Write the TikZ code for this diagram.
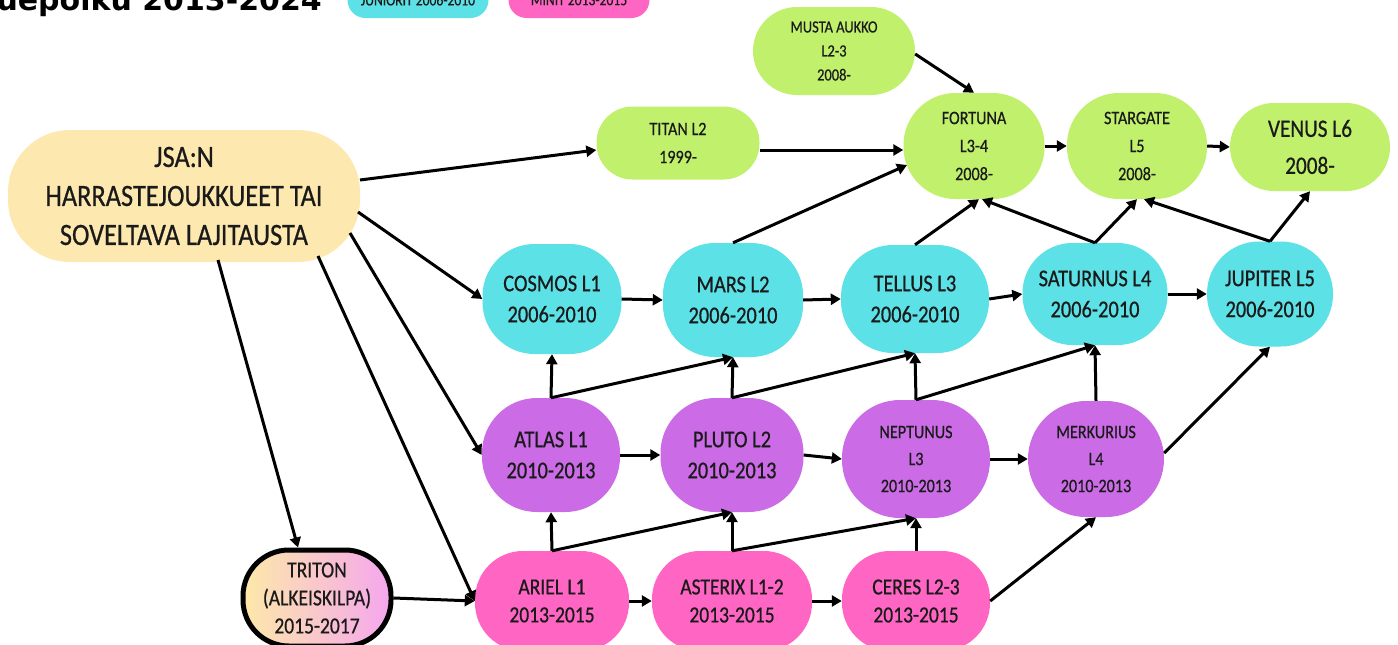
\documentclass[tikz,border=0pt]{standalone}
\usepackage{fontspec}
\setmainfont{Carlito}[FakeStretch=0.85, FakeBold=0.6]
\newfontfamily\titlefont{DejaVu Sans}
\usetikzlibrary{arrows.meta}
\definecolor{ink}{HTML}{1A1A1A}
\definecolor{cyanc}{HTML}{5CE1E6}
\definecolor{purp}{HTML}{CB6CE6}
\definecolor{pinkc}{HTML}{FF66C4}
\definecolor{limec}{HTML}{C1F16C}
\definecolor{creamc}{HTML}{FDE9B0}
\definecolor{trL}{HTML}{FDE9A9}
\definecolor{trR}{HTML}{F5A6EE}
\begin{document}
\begin{tikzpicture}[x=1pt,y=-1pt,
  base/.style={rectangle, inner sep=0pt, align=center, text=ink},
  cy/.style={base, fill=cyanc, rounded corners=52pt, font=\fontsize{24}{31}\selectfont},
  pu/.style={base, fill=purp, rounded corners=55pt, font=\fontsize{24}{31}\selectfont},
  pusm/.style={pu, font=\fontsize{19}{27}\selectfont},
  pk/.style={base, fill=pinkc, rounded corners=48pt, font=\fontsize{23}{28}\selectfont},
  gr/.style={base, fill=limec, rounded corners=50pt, font=\fontsize{19}{28}\selectfont},
  arr/.style={-{Triangle[length=10pt,width=11pt]}, line width=3pt, draw=black},
]
\useasboundingbox (0,0) rectangle (1398,645);
\fill[white] (0,0) rectangle (1398,645);

% title and legend (cut off at the top, as in the reference)
\node[anchor=base east, text=black, inner sep=0pt,
      font=\titlefont\bfseries\fontsize{30}{30}\selectfont] (title) at (322,10) {Joukkuepolku 2013-2024};
\node[base, fill=cyanc, rounded corners=18pt, minimum width=141pt, minimum height=36pt,
      font=\fontsize{16}{16}\selectfont] (legjun) at (418,0) {JUNIORIT 2006-2010};
\node[base, fill=pinkc, rounded corners=18pt, minimum width=141pt, minimum height=36pt,
      font=\fontsize{16}{16}\selectfont] (legmin) at (579,0) {MINIT 2013-2015};

% nodes
\node[base, fill=creamc, rounded corners=62pt, minimum width=352pt, minimum height=132pt,
      font=\fontsize{31}{39}\selectfont] (jsa) at (184,196) {JSA:N\\HARRASTEJOUKKUEET TAI\\SOVELTAVA LAJITAUSTA};

\node[gr, rounded corners=36pt, minimum width=163pt, minimum height=73pt] (titan) at (678,143) {TITAN L2\\1999-};
\node[gr, rounded corners=44pt, minimum width=162pt, minimum height=88pt,
      font=\fontsize{17}{24}\selectfont] (musta) at (834,51) {MUSTA AUKKO\\L2-3\\2008-};
\node[gr, rounded corners=52pt, minimum width=141pt, minimum height=106pt] (fortuna) at (974,146) {FORTUNA\\L3-4\\2008-};
\node[gr, rounded corners=52pt, minimum width=140pt, minimum height=106pt] (stargate) at (1137,146) {STARGATE\\L5\\2008-};
\node[gr, rounded corners=44pt, minimum width=160pt, minimum height=88pt,
      font=\fontsize{25}{37}\selectfont] (venus) at (1310,147) {VENUS L6\\2008-};

\node[cy, minimum width=139pt, minimum height=110pt] (cosmos) at (552,299) {COSMOS L1\\2006-2010};
\node[cy, minimum width=140pt, minimum height=114pt] (mars) at (733,300) {MARS L2\\2006-2010};
\node[cy, minimum width=148pt, minimum height=108pt] (tellus) at (915,299) {TELLUS L3\\2006-2010};
\node[cy, rounded corners=50pt, minimum width=145pt, minimum height=102pt] (saturnus) at (1095,294) {SATURNUS L4\\2006-2010};
\node[cy, minimum width=126pt, minimum height=105pt] (jupiter) at (1270,294) {JUPITER L5\\2006-2010};

\node[pu, minimum width=138pt, minimum height=114pt] (atlas) at (551,455) {ATLAS L1\\2010-2013};
\node[pu, minimum width=143pt, minimum height=114pt] (pluto) at (732,455) {PLUTO L2\\2010-2013};
\node[pusm, rounded corners=58pt, minimum width=148pt, minimum height=118pt] (neptunus) at (916,459) {NEPTUNUS\\L3\\2010-2013};
\node[pusm, rounded corners=58pt, minimum width=136pt, minimum height=116pt] (merkurius) at (1096,459) {MERKURIUS\\L4\\2010-2013};

\node[pk, minimum width=154pt, minimum height=100pt] (ariel) at (552,601) {ARIEL L1\\2013-2015};
\node[pk, minimum width=160pt, minimum height=100pt] (asterix) at (732,601) {ASTERIX L1-2\\2013-2015};
\node[pk, minimum width=148pt, minimum height=100pt] (ceres) at (916,601) {CERES L2-3\\2013-2015};

\node[base, left color=trL, right color=trR, draw=black, line width=5pt, rounded corners=46pt,
      minimum width=148pt, minimum height=96pt, font=\fontsize{23}{28}\selectfont] (triton) at (317,598) {TRITON\\(ALKEISKILPA)\\2015-2017};

% connectors from JSA
\draw[arr] ([shift={(176,-16)}]jsa.center) -- ([shift={(0,7)}]titan.west);
\draw[arr] ([shift={(174,16)}]jsa.center) -- (cosmos.west);
\draw[arr] ([shift={(166,37)}]jsa.center) -- (atlas.west);
\draw[arr] ([shift={(134,60)}]jsa.center) -- (ariel.west);
\draw[arr] ([shift={(34,64)}]jsa.center) -- ([shift={(-19,0)}]triton.north);
\draw[arr] (triton.east) -- (ariel.west);

% green row
\draw[arr] ([shift={(0,7)}]titan.east) -- ([shift={(0,4)}]fortuna.west);
\draw[arr] ([shift={(0,3)}]musta.east) -- (fortuna.north);
\draw[arr] (fortuna.east) -- (stargate.west);
\draw[arr] (stargate.east) -- (venus.west);

% cyan to green
\draw[arr] (mars.north) -- ([shift={(-67,19)}]fortuna.center);
\draw[arr] (tellus.north) -- ([shift={(5,0)}]fortuna.south);
\draw[arr] (saturnus.north) -- ([shift={(8,0)}]fortuna.south);
\draw[arr] (saturnus.north) -- (stargate.south);
\draw[arr] (jupiter.north) -- ([shift={(7,0)}]stargate.south);
\draw[arr] (jupiter.north) -- (venus.south);

% cyan row
\draw[arr] (cosmos.east) -- (mars.west);
\draw[arr] (mars.east) -- (tellus.west);
\draw[arr] (tellus.east) -- (saturnus.west);
\draw[arr] (saturnus.east) -- (jupiter.west);

% purple row
\draw[arr] (atlas.east) -- (pluto.west);
\draw[arr] (pluto.east) -- (neptunus.west);
\draw[arr] (neptunus.east) -- (merkurius.west);
\draw[arr] ([shift={(0,-6)}]merkurius.east) -- (jupiter.south);

% purple to cyan
\draw[arr] (atlas.north) -- (cosmos.south);
\draw[arr] (atlas.north) -- (mars.south);
\draw[arr] (pluto.north) -- (mars.south);
\draw[arr] (pluto.north) -- (tellus.south);
\draw[arr] (neptunus.north) -- (tellus.south);
\draw[arr] (neptunus.north) -- (saturnus.south);
\draw[arr] (merkurius.north) -- (saturnus.south);

% pink row
\draw[arr] (ariel.east) -- (asterix.west);
\draw[arr] (asterix.east) -- (ceres.west);

% pink to purple
\draw[arr] (ariel.north) -- (atlas.south);
\draw[arr] (ariel.north) -- (pluto.south);
\draw[arr] (asterix.north) -- (pluto.south);
\draw[arr] (asterix.north) -- (neptunus.south);
\draw[arr] (ceres.north) -- (neptunus.south);
\draw[arr] (ceres.east) -- (merkurius.south);
\end{tikzpicture}
\end{document}
